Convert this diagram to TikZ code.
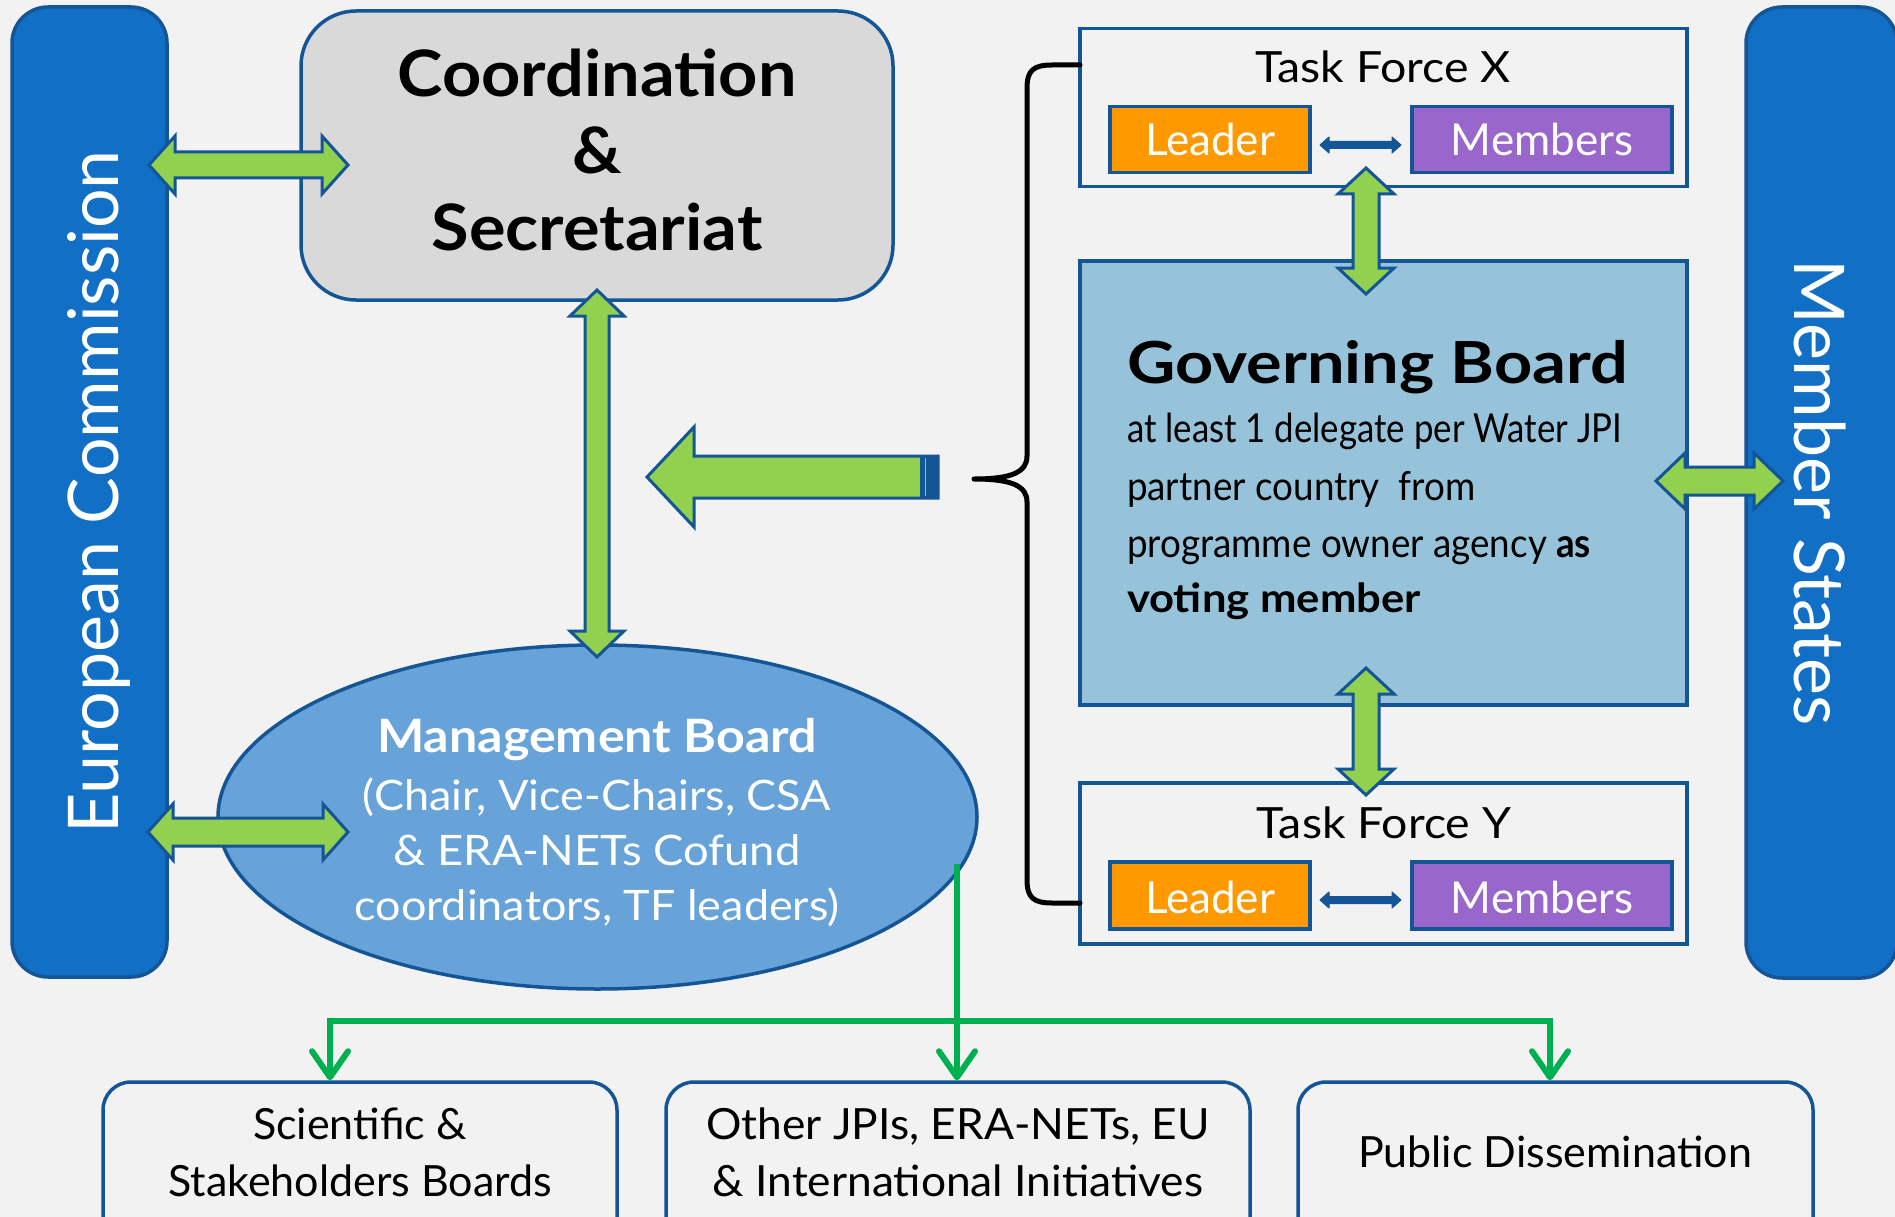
\documentclass[tikz,border=0pt]{standalone}
\usepackage{fontspec}
\setmainfont{Lato}
\usepackage{graphicx}
\usetikzlibrary{arrows.meta,shapes.geometric}
\definecolor{bg}{HTML}{F2F2F2}
\definecolor{barblue}{HTML}{116FC6}
\definecolor{edgeblue}{HTML}{145596}
\definecolor{coordgray}{HTML}{D9D9D9}
\definecolor{gbblue}{HTML}{96C3D9}
\definecolor{mbblue}{HTML}{67A3D9}
\definecolor{armgreen}{HTML}{92D050}
\definecolor{lngreen}{HTML}{00B050}
\definecolor{leadorange}{HTML}{FF9900}
\definecolor{mempurple}{HTML}{9966CC}
\newcommand{\fsz}[1]{\fontsize{#1}{#1}\selectfont}
% horizontal fat double arrow: x1 x2 y shafthalf headhalf headlen style
\newcommand{\hfat}[7]{%
  \filldraw[#7] (#1,#3) -- ({#1+#6},{#3-#5}) -- ({#1+#6},{#3-#4}) -- ({#2-#6},{#3-#4}) -- ({#2-#6},{#3-#5}) -- (#2,#3) -- ({#2-#6},{#3+#5}) -- ({#2-#6},{#3+#4}) -- ({#1+#6},{#3+#4}) -- ({#1+#6},{#3+#5}) -- cycle;}
% vertical fat double arrow: y1 y2 x shafthalf headhalf headlen style
\newcommand{\vfat}[7]{%
  \filldraw[#7] (#3,#1) -- ({#3-#5},{#1+#6}) -- ({#3-#4},{#1+#6}) -- ({#3-#4},{#2-#6}) -- ({#3-#5},{#2-#6}) -- (#3,#2) -- ({#3+#5},{#2-#6}) -- ({#3+#4},{#2-#6}) -- ({#3+#4},{#1+#6}) -- ({#3+#5},{#1+#6}) -- cycle;}
\begin{document}
\begin{tikzpicture}[x=1pt,y=-1pt,
  fatarrow/.style={fill=armgreen,draw=edgeblue,line width=3pt,line join=miter},
  smallarrow/.style={fill=edgeblue,draw=edgeblue,line width=1pt,line join=round},
  bar/.style={fill=barblue,draw=edgeblue,line width=3.5pt,rounded corners=36pt,inner sep=0pt},
  box/.style={draw=edgeblue,line width=3.5pt,inner sep=0pt},
  lnk/.style={draw=lngreen,line width=6pt},
  link/.style={draw=lngreen,line width=6pt,-{Straight Barb[length=26pt,width=36pt,round]}},
  txt/.style={inner sep=0pt,outer sep=0pt},
]
\fill[bg] (0,0) rectangle (1895,1217);
\useasboundingbox (0,0) rectangle (1895,1217);

% side bars
\node[bar,minimum width=155pt,minimum height=970pt] (ec) at (89.5,492) {};
\node[bar,minimum width=151pt,minimum height=971pt] (ms) at (1821.5,492.5) {};

% coordination
\node[box,fill=coordgray,rounded corners=55pt,minimum width=592pt,minimum height=289pt] (coord) at (597,155.5) {};

% task forces and governing board
\node[box,fill=bg,minimum width=607pt,minimum height=158pt] (tfx) at (1383.5,107.5) {};
\node[box,fill=leadorange,minimum width=200pt,minimum height=66pt] (leadx) at (1210,139.5) {};
\node[box,fill=mempurple,minimum width=260pt,minimum height=66pt] (memx) at (1542,139.5) {};
\node[box,fill=gbblue,minimum width=607pt,minimum height=444pt] (gb) at (1383.5,483) {};
\node[box,fill=bg,minimum width=607pt,minimum height=161pt] (tfy) at (1383.5,863.5) {};
\node[box,fill=leadorange,minimum width=200pt,minimum height=67pt] (leady) at (1210,895.5) {};
\node[box,fill=mempurple,minimum width=260pt,minimum height=67pt] (memy) at (1542,895.5) {};

% management board
\node[ellipse,draw=edgeblue,fill=mbblue,line width=3.5pt,inner sep=0pt,minimum width=759pt,minimum height=344pt] (mb) at (597.5,817) {};

% bottom boxes
\node[box,fill=bg,rounded corners=28pt,minimum width=514pt,minimum height=168pt] (sci) at (360,1166) {};
\node[box,fill=bg,rounded corners=28pt,minimum width=584pt,minimum height=168pt] (oth) at (958,1166) {};
\node[box,fill=bg,rounded corners=28pt,minimum width=515pt,minimum height=168pt] (pub) at (1555.5,1166) {};

% brace
\draw[line width=5pt,line cap=round,line join=round]
  (1080,65) -- (1052,65) .. controls (1034,65) and (1027,70) .. (1027,88)
  -- (1027,456) .. controls (1027,472) and (1012,479) .. (974,479)
  .. controls (1012,479) and (1027,486) .. (1027,502)
  -- (1027,880) .. controls (1027,898) and (1034,903) .. (1052,903) -- (1080,903);

% green links from management board
\coordinate (mbout) at (957,864);
\coordinate (hl) at (330,1021);
\coordinate (hr) at (1550,1021);
\draw[lnk,line cap=rect] (hl) -- (hr);
\draw[link] (mbout) -- (mbout |- oth.north);
\draw[link] (hl) -- (hl |- sci.north);
\draw[link] (hr) -- (hr |- pub.north);

% fat arrows
\hfat{149}{348}{165}{13}{29}{26}{fatarrow}
\hfat{148}{348}{832}{14}{28}{25}{fatarrow}
\vfat{290}{657}{597}{12}{27}{26}{fatarrow}
\vfat{168}{294}{1366}{13}{28}{26}{fatarrow}
\vfat{668}{795}{1366}{13}{28}{26}{fatarrow}
\hfat{1656}{1783}{481}{14}{28}{29}{fatarrow}
\filldraw[fatarrow] (647,477) -- (694,427) -- (694,456) -- (938,456) -- (938,498) -- (694,498) -- (694,527) -- cycle;
\fill[edgeblue] (920,456) rectangle (939,498);
\draw[bg!60!edgeblue,line width=1pt] (925,458) -- (925,496);
\hfat{1320}{1401}{145}{3.5}{8}{9}{smallarrow}
\hfat{1320}{1401}{900}{3.5}{8}{9}{smallarrow}

% texts
\node[txt,rotate=90,anchor=base,text=white] (ectxt) at (118,492) {\fsz{70}European Commission};
\node[txt,rotate=-90,anchor=base,text=white] (mstxt) at (1794,493) {\fsz{70}Member States};

\node[txt,anchor=base] (c1) at (597,97) {\scalebox{1.07}[1]{\fsz{64}\bfseries Coordination}};
\node[txt,anchor=base] (c2) at (597,174) {\scalebox{1.07}[1]{\fsz{64}\bfseries \&}};
\node[txt,anchor=base] (c3) at (597,251) {\scalebox{1.07}[1]{\fsz{64}\bfseries Secretariat}};

\node[txt,anchor=base] (tfxt) at (1383,83) {\scalebox{1.08}[1]{\fsz{43}Task Force X}};
\node[txt,anchor=base,text=white] (lxt) at (1210,156) {\fsz{44}Leader};
\node[txt,anchor=base,text=white] (mxt) at (1542,156) {\fsz{44}Members};

\node[txt,anchor=base west] (gbt) at (1127,383) {\scalebox{1.15}[1]{\fsz{58}\bfseries Governing Board}};
\node[txt,anchor=base west] (gb1) at (1127,442) {\scalebox{0.87}[1]{\fsz{40}at least 1 delegate per Water JPI}};
\node[txt,anchor=base west] (gb2) at (1127,500) {\scalebox{0.92}[1]{\fsz{40}partner country\ \ from}};
\node[txt,anchor=base west] (gb3) at (1127,557) {\scalebox{0.92}[1]{\fsz{40}programme owner agency \textbf{as}}};
\node[txt,anchor=base west] (gb4) at (1127,612) {\scalebox{1.09}[1]{\fsz{40}\bfseries voting member}};

\node[txt,anchor=base,text=white] (mb1) at (597,752) {\scalebox{1.09}[1]{\fsz{46}\bfseries Management Board}};
\node[txt,anchor=base,text=white] (mb2) at (597,810) {\scalebox{1.07}[1]{\fsz{42}(Chair, Vice-Chairs, CSA}};
\node[txt,anchor=base,text=white] (mb3) at (597,865) {\scalebox{1.08}[1]{\fsz{42}\& ERA-NETs Cofund}};
\node[txt,anchor=base,text=white] (mb4) at (597,920) {\scalebox{1.07}[1]{\fsz{42}coordinators, TF leaders)}};

\node[txt,anchor=base] (tfyt) at (1384,838) {\scalebox{1.08}[1]{\fsz{43}Task Force Y}};
\node[txt,anchor=base,text=white] (lyt) at (1210,913) {\fsz{44}Leader};
\node[txt,anchor=base,text=white] (myt) at (1542,913) {\fsz{44}Members};

\node[txt,anchor=base] (s1) at (360,1139) {\fsz{43}Scientific \&};
\node[txt,anchor=base] (s2) at (360,1196) {\fsz{43}Stakeholders Boards};
\node[txt,anchor=base] (o1) at (958,1139) {\scalebox{1.03}[1]{\fsz{43}Other JPIs, ERA-NETs, EU}};
\node[txt,anchor=base] (o2) at (958,1196) {\scalebox{1.03}[1]{\fsz{43}\& International Initiatives}};
\node[txt,anchor=base] (p1) at (1555,1167) {\fsz{43}Public Dissemination};
\end{tikzpicture}
\end{document}
